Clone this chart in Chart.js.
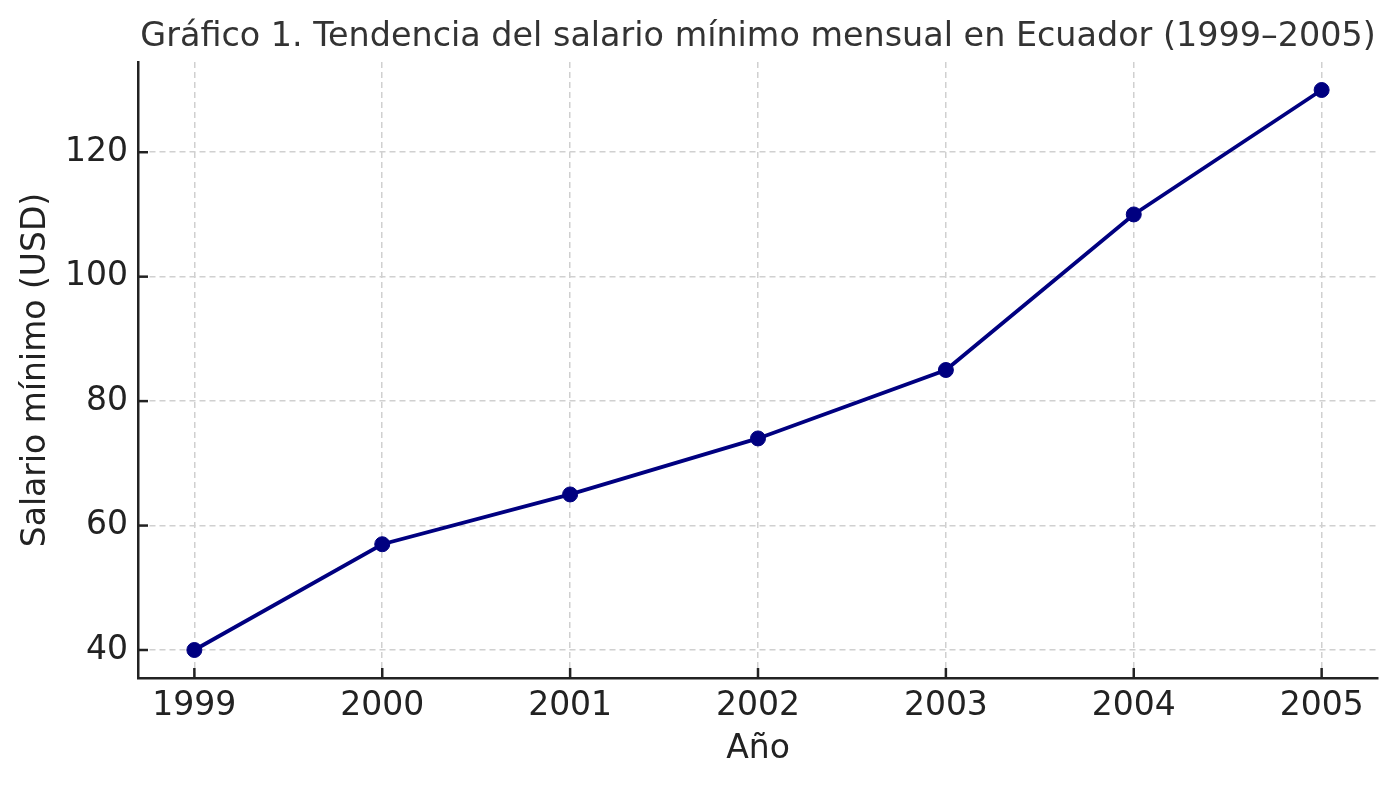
<!DOCTYPE html>
<html>
<head>
<meta charset="utf-8">
<script src="https://cdn.jsdelivr.net/npm/chart.js@4"></script>
<style>
html,body{margin:0;padding:0;background:#fff}
#wrap{width:1397px;height:785px}
</style>
</head>
<body>
<div id="wrap"><canvas id="c" width="1397" height="785"></canvas></div>
<script>
// data
const years=[1999,2000,2001,2002,2003,2004,2005];
const salary=[40,57,65,74,85,110,130];
const yTicks=[40,60,80,100,120];
const title='Gráfico 1. Tendencia del salario mínimo mensual en Ecuador (1999–2005)';

const FONT='"DejaVu Sans", sans-serif';
const FS=33;

// matplotlib-ish inward ticks + title centred on the plot area
const extras={
  id:'extras',
  afterDraw(chart){
    const {ctx,chartArea:a,scales:{x,y}}=chart;
    ctx.save();
    ctx.strokeStyle='#222';ctx.lineWidth=2.5;
    x.ticks.forEach(t=>{const px=x.getPixelForValue(t.value);ctx.beginPath();ctx.moveTo(px,a.bottom);ctx.lineTo(px,a.bottom-10);ctx.stroke();});
    y.ticks.forEach(t=>{const py=y.getPixelForValue(t.value);ctx.beginPath();ctx.moveTo(a.left,py);ctx.lineTo(a.left+10,py);ctx.stroke();});
    ctx.fillStyle='#333';ctx.font='33.4px '+FONT;ctx.textAlign='center';ctx.textBaseline='alphabetic';
    ctx.fillText(title,(a.left+a.right)/2,46);
    ctx.restore();
  }
};

const grid={color:'#d0d0d0',lineWidth:1.5,drawTicks:false};
const border={display:true,color:'#222',width:2.5,dash:[6,4]};

new Chart(document.getElementById('c'),{
  type:'line',
  data:{datasets:[{
    data:years.map((v,i)=>({x:v,y:salary[i]})),
    borderColor:'#000080',backgroundColor:'#000080',
    borderWidth:3.8,pointRadius:7.5,pointBorderWidth:1,pointBorderColor:'#000080',
    tension:0
  }]},
  options:{
    responsive:false,animation:false,
    layout:{padding:{top:62,right:19,left:0,bottom:0}},
    plugins:{legend:{display:false},tooltip:{enabled:false},title:{display:false}},
    scales:{
      x:{type:'linear',min:1998.7,max:2005.3,grid,border,
        afterBuildTicks:s=>{s.ticks=years.map(v=>({value:v}));},
        afterFit:s=>{s.height=107;},
        ticks:{color:'#222',padding:9,font:{family:FONT,size:FS},callback:v=>String(v),maxRotation:0},
        title:{display:true,text:'Año',color:'#222',font:{family:FONT,size:FS},padding:{top:0,bottom:16}}},
      y:{min:35.5,max:134.5,grid,border,
        afterBuildTicks:s=>{s.ticks=yTicks.map(v=>({value:v}));},
        afterFit:s=>{s.width=138;},
        ticks:{color:'#222',padding:10,font:{family:FONT,size:FS}},
        title:{display:true,text:'Salario mínimo (USD)',color:'#222',font:{family:FONT,size:FS},padding:{top:17,bottom:0}}}
    }
  },
  plugins:[extras]
});
</script>
</body>
</html>
